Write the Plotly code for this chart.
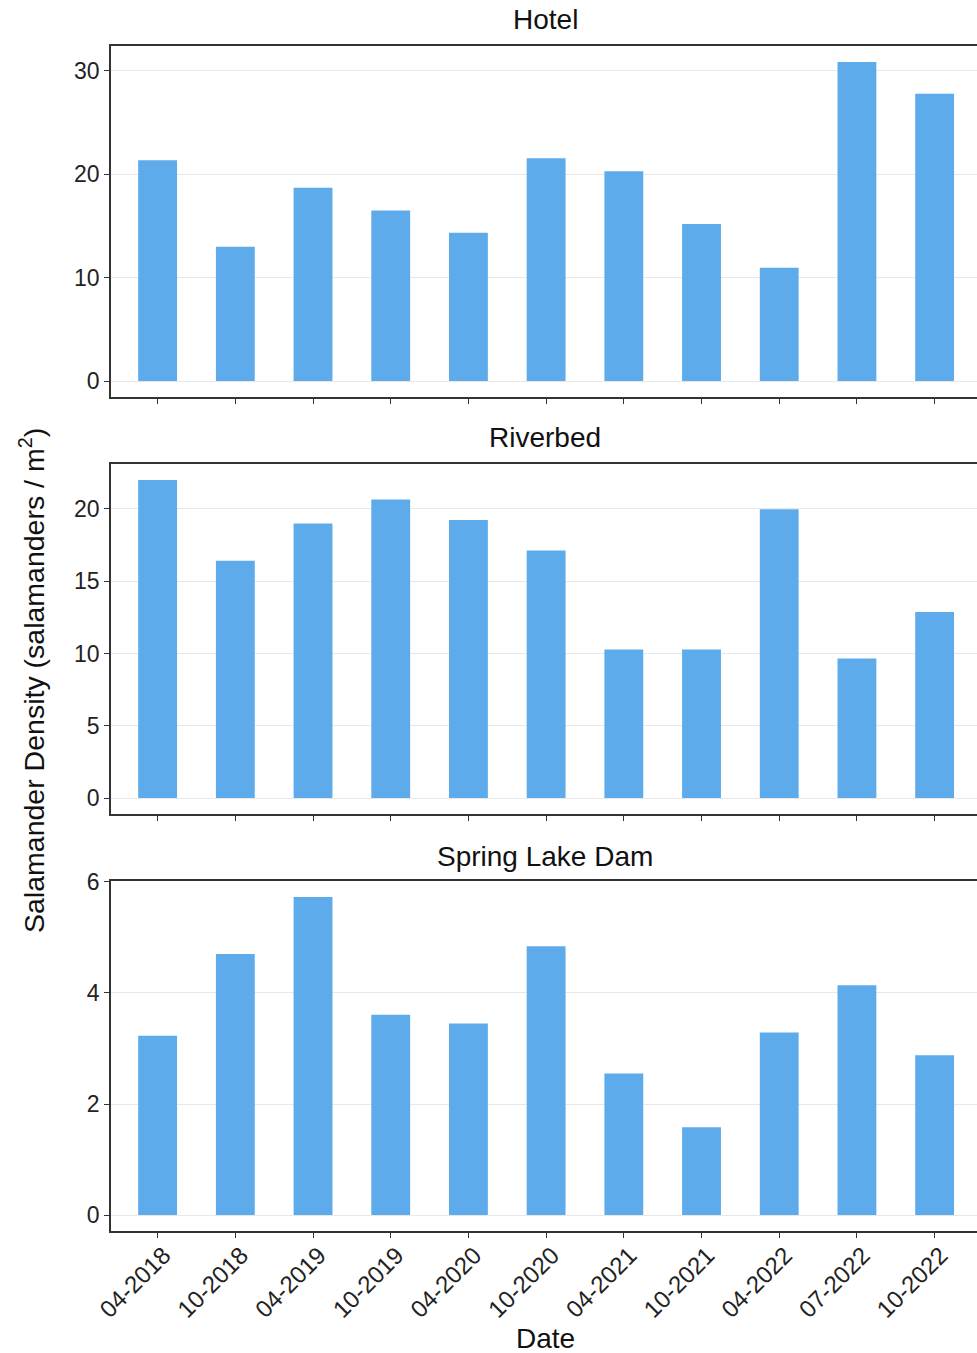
import plotly.graph_objects as go

dates = ["04-2018", "10-2018", "04-2019", "10-2019", "04-2020", "10-2020",
         "04-2021", "10-2021", "04-2022", "07-2022", "10-2022"]

hotel = [21.35, 13.0, 18.7, 16.5, 14.35, 21.55, 20.3, 15.2, 10.96, 30.87, 27.8]
riverbed = [22.0, 16.41, 18.99, 20.64, 19.22, 17.12, 10.28, 10.28, 19.97, 9.66, 12.87]
spring_lake_dam = [3.23, 4.70, 5.73, 3.61, 3.45, 4.84, 2.55, 1.58, 3.29, 4.14, 2.88]

sites = ["Hotel", "Riverbed", "Spring Lake Dam"]
series = [hotel, riverbed, spring_lake_dam]
y_dticks = [10, 5, 2]

W, H = 977, 1353
BAR = "#5DABEB"
FONT = "Liberation Sans, Arial, sans-serif"

# panel pixel extents (top, bottom)
panels_px = [(46, 397), (464, 814), (881, 1231)]
strip_y_px = [20, 437, 856]
left_px = 111
x_range = [-0.6, -0.6 + (W - left_px) / 77.7]

fig = go.Figure()
layout = dict(
    width=W, height=H,
    margin=dict(l=0, r=0, t=0, b=0),
    paper_bgcolor="white", plot_bgcolor="white",
    showlegend=False,
    bargap=0.5,
)

for i, (name, vals) in enumerate(zip(sites, series)):
    n = i + 1
    xa = "x" if n == 1 else f"x{n}"
    ya = "y" if n == 1 else f"y{n}"
    fig.add_trace(go.Bar(x=dates, y=vals, marker=dict(color=BAR, line=dict(width=0)),
                         width=0.5, xaxis=xa, yaxis=ya, name=name))
    top, bot = panels_px[i]
    dom_y = [1 - bot / H, 1 - top / H]
    vmax = max(vals)
    yr = [-0.05 * vmax, 1.05 * vmax]
    xdef = dict(
        domain=[left_px / W, 1.0], anchor=ya, type="category",
        categoryorder="array", categoryarray=dates,
        range=x_range, showgrid=False, zeroline=False,
        showline=True, linecolor="#333333", linewidth=1.5, mirror=True,
        ticks="outside", ticklen=5, tickwidth=1.2, tickcolor="#333333",
        showticklabels=(n == 3), tickangle=-45,
        tickfont=dict(family=FONT, size=24, color="#222222"),
        automargin=False,
    )
    if n == 3:
        xdef.update(ticklabelshift=6, ticklabelstandoff=-6)
    layout["xaxis" if n == 1 else f"xaxis{n}"] = xdef
    layout["yaxis" if n == 1 else f"yaxis{n}"] = dict(
        domain=dom_y, anchor=xa, range=yr, dtick=y_dticks[i], tick0=0,
        showgrid=True, gridcolor="#E8E8E8", gridwidth=1.3, zeroline=False,
        showline=True, linecolor="#333333", linewidth=1.5, mirror=False,
        ticks="outside", ticklen=5, tickwidth=1.2, tickcolor="#333333",
        tickfont=dict(family=FONT, size=23, color="#222222"),
        automargin=False,
    )

annotations = []
for i, name in enumerate(sites):
    annotations.append(dict(
        text=name, x=545 / W, y=1 - strip_y_px[i] / H, xref="paper", yref="paper",
        xanchor="center", yanchor="middle", showarrow=False,
        font=dict(family=FONT, size=28, color="#111111")))
annotations.append(dict(
    text="Date", x=545 / W, y=1 - 1338 / H, xref="paper", yref="paper",
    xanchor="center", yanchor="middle", showarrow=False,
    font=dict(family=FONT, size=28, color="#111111")))
annotations.append(dict(
    text="Salamander Density (salamanders / m<sup>2</sup>)", x=32 / W, y=1 - 681 / H,
    xref="paper", yref="paper", xanchor="center", yanchor="middle",
    textangle=-90, showarrow=False,
    font=dict(family=FONT, size=28.5, color="#111111")))
layout["annotations"] = annotations

fig.update_layout(**layout)
fig.write_html("out.html")
